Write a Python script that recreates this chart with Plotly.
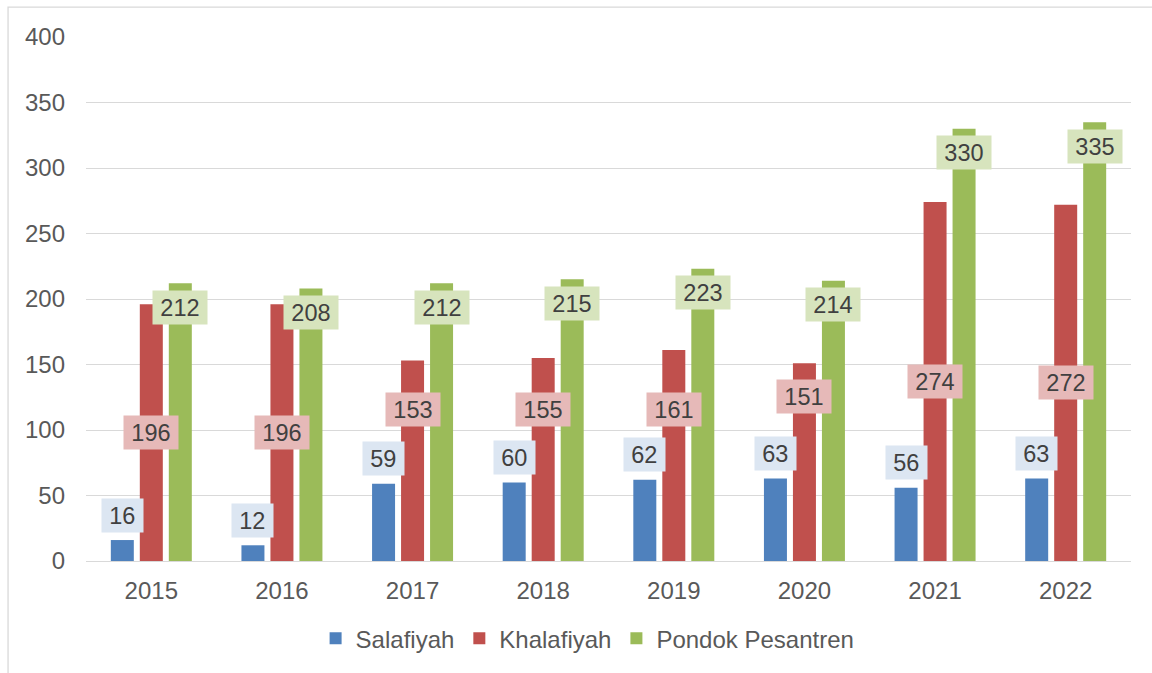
import plotly.graph_objects as go

years = ["2015", "2016", "2017", "2018", "2019", "2020", "2021", "2022"]
salafiyah = [16, 12, 59, 60, 62, 63, 56, 63]
khalafiyah = [196, 196, 153, 155, 161, 151, 274, 272]
pondok = [212, 208, 212, 215, 223, 214, 330, 335]
series_names = ["Salafiyah", "Khalafiyah", "Pondok Pesantren"]
y_ticks = [0, 50, 100, 150, 200, 250, 300, 350, 400]

# label placement for the Khalafiyah callouts (data units, as placed in the source chart)
khal_label_pos = [98, 98, 116, 116, 116, 125.5, 137, 136]

FONT = "Arial, Liberation Sans, sans-serif"
colors = ["#4f81bd", "#c0504d", "#9bbb59"]
label_bg = ["#dce6f2", "#e6b9b8", "#d7e4bd"]

fig = go.Figure()
for name, vals, c in zip(series_names, [salafiyah, khalafiyah, pondok], colors):
    fig.add_trace(go.Bar(x=years, y=vals, name=name, showlegend=False,
                         marker=dict(color=c, line=dict(width=0))))
# legend entries with square swatches
for name, c in zip(series_names, colors):
    fig.add_trace(go.Scatter(x=[None], y=[None], mode="markers", name=name,
                             marker=dict(symbol="square", size=12, color=c)))

def box_w(v):
    return 14 + 13.3 * len(str(v))

ann = []
for i, y in enumerate(years):
    ann.append(dict(x=i, y=salafiyah[i], xref="x", yref="y", text=str(salafiyah[i]),
                    xshift=-29, yshift=25, showarrow=False, bgcolor=label_bg[0],
                    width=box_w(salafiyah[i]), height=33, borderpad=0,
                    font=dict(family=FONT, size=23.5, color="#404040")))
    ann.append(dict(x=i, y=khal_label_pos[i], xref="x", yref="y", text=str(khalafiyah[i]),
                    xshift=0, yshift=0, showarrow=False, bgcolor=label_bg[1],
                    width=box_w(khalafiyah[i]), height=33, borderpad=0,
                    font=dict(family=FONT, size=23.5, color="#404040")))
    ann.append(dict(x=i, y=pondok[i], xref="x", yref="y", text=str(pondok[i]),
                    xshift=29, yshift=-24, showarrow=False, bgcolor=label_bg[2],
                    width=box_w(pondok[i]), height=33, borderpad=0,
                    font=dict(family=FONT, size=23.5, color="#404040")))

fig.update_layout(
    width=1152, height=673,
    margin=dict(l=86, r=21, t=37, b=110),
    paper_bgcolor="white", plot_bgcolor="white",
    barmode="group", bargap=0.334, bargroupgap=0.207,
    font=dict(family=FONT, size=24, color="#595959"),
    showlegend=True,
    legend=dict(orientation="h", x=0.48, xanchor="center", y=-0.148, yanchor="middle",
                font=dict(family=FONT, size=24, color="#595959"), itemwidth=30,
                traceorder="normal"),
    annotations=ann,
    shapes=[dict(type="rect", xref="paper", yref="paper",
                 x0=-0.0746, x1=1.2, y0=-0.4, y1=1.057,
                 line=dict(color="#d9d9d9", width=1.3), fillcolor="rgba(0,0,0,0)", layer="below")],
)
fig.update_yaxes(range=[0, 400], tickvals=y_ticks, showgrid=True, gridcolor="#d9d9d9",
                 gridwidth=1.3, zeroline=False, showline=False, ticks="",
                 ticklabelstandoff=20, tickfont=dict(family=FONT, size=24, color="#595959"))
fig.update_xaxes(type="category", categoryorder="array", categoryarray=years,
                 range=[-0.5, len(years) - 0.5], showline=True, linecolor="#d9d9d9",
                 linewidth=1.3, ticks="", ticklabelstandoff=8, showgrid=False,
                 tickfont=dict(family=FONT, size=24, color="#595959"))

fig.write_html("out.html", post_script="document.body.style.margin='0';",
               config={"displayModeBar": False})
